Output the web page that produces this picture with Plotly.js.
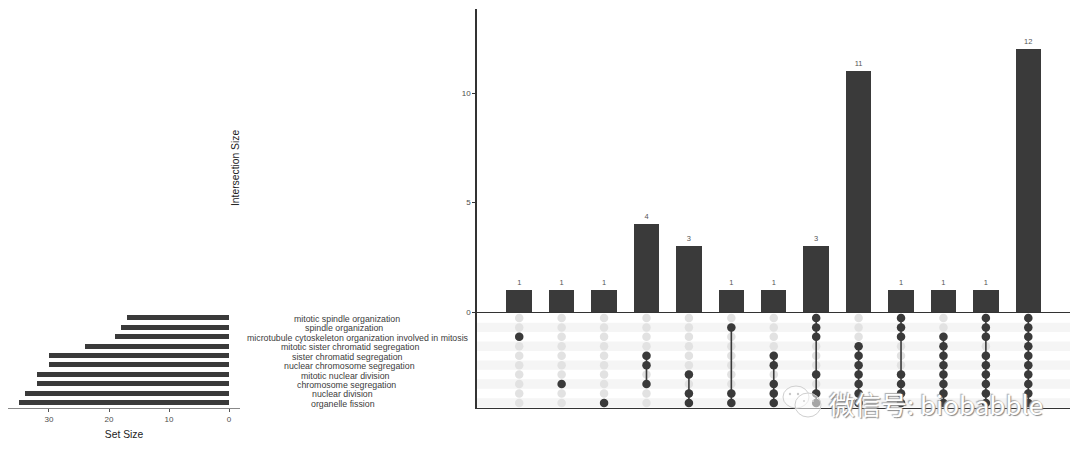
<!DOCTYPE html>
<html>
<head>
<meta charset="utf-8">
<script src="https://cdn.plot.ly/plotly-3.0.1.min.js"></script>
<style>html,body{margin:0;padding:0;background:#fff}#c{width:1080px;height:450px}</style>
</head>
<body>
<div id="c"></div>
<script>
const setNames = ["mitotic spindle organization","spindle organization","microtubule cytoskeleton organization involved in mitosis","mitotic sister chromatid segregation","sister chromatid segregation","nuclear chromosome segregation","mitotic nuclear division","chromosome segregation","nuclear division","organelle fission"];
const setSizes = [17,18,19,24,30,30,32,32,34,35];
const intersectionSizes = [1,1,1,4,3,1,1,3,11,1,1,1,12];
const intersectionColumns = [1,2,3,4,5,6,7,8,9,10,11,12,13];
const memberships = [
  [3],[8],[10],[5,6,8],[7,9,10],[2,9,10],[5,6,8,9,10],[1,2,3,7,9,10],
  [4,5,6,7,8,9,10],[1,2,3,7,8,9,10],[3,4,5,6,7,8,9,10],[1,2,3,5,6,7,8,9,10],[1,2,3,4,5,6,7,8,9,10]
];
const rows = [1,2,3,4,5,6,7,8,9,10];
const dark = "#3a3a3a", W = 1080, H = 450;
const px = v => v / W, py = v => 1 - v / H;
const sans = "Liberation Sans, Arial, sans-serif";
const tickFont = {family:sans, size:8, color:"#4d4d4d"};
const titleFont = {family:sans, size:10.3, color:"#222"};

const traces = [];
traces.push({type:"bar", x:intersectionColumns, y:intersectionSizes, xaxis:"x", yaxis:"y", width:0.6,
  marker:{color:dark}, text:intersectionSizes.map(String), textposition:"outside", cliponaxis:false,
  textfont:{family:sans, size:7.5, color:"#555"}, hoverinfo:"x+y"});
traces.push({type:"bar", orientation:"h", x:setSizes, y:rows, xaxis:"x2", yaxis:"y2", width:0.53,
  marker:{color:dark}, hoverinfo:"x"});
const gx = [], gy = [];
intersectionColumns.forEach(c => rows.forEach(r => { gx.push(c); gy.push(r); }));
traces.push({type:"scatter", mode:"markers", x:gx, y:gy, xaxis:"x3", yaxis:"y3",
  marker:{size:8.5, color:"#e2e2e2"}, hoverinfo:"skip"});
memberships.forEach((m,i) => {
  traces.push({type:"scatter", mode:"lines+markers", x:m.map(() => intersectionColumns[i]), y:m, xaxis:"x3", yaxis:"y3",
    line:{color:dark, width:1.6}, marker:{size:8.5, color:dark}, hoverinfo:"skip"});
});

const stripes = rows.filter(r => r % 2 === 0).map(r => ({type:"rect", layer:"below", xref:"x3 domain", yref:"y3",
  x0:0, x1:1, y0:r-0.5, y1:r+0.5, fillcolor:"#f5f5f5", line:{width:0}}));

const bubble = (cx,cy,rx,ry,fill,line) => ({type:"circle", xref:"paper", yref:"paper", layer:"above",
  x0:px(cx-rx), x1:px(cx+rx), y0:py(cy+ry), y1:py(cy-ry), fillcolor:fill, line:{color:line, width:line === fill ? 0 : 1}});
const iconFill = "rgba(255,255,255,0.55)", iconLine = "#cfcfcf";
const icon = [bubble(796,397,13,11,iconFill,iconLine), bubble(808,405,13,12,iconFill,iconLine),
  bubble(790,394,1.2,1.2,"#c8c8c8","#c8c8c8"), bubble(798,394,1.2,1.2,"#c8c8c8","#c8c8c8"),
  bubble(804,401,1,1,"#d0d0d0","#d0d0d0"), bubble(813,401,1,1,"#d0d0d0","#d0d0d0")];

// The labels were set with a partial justification: wider labels sit further right.
const ctx = document.createElement("canvas").getContext("2d");
ctx.font = "8.8px 'Liberation Sans'";
const rowLabels = setNames.map((n,i) => ({text:n, xref:"paper", yref:"y3",
  x:px(336.7 + 0.097 * ctx.measureText(n).width), y:rows[i] + 0.1,
  xanchor:"center", yanchor:"middle", showarrow:false,
  font:{family:sans, size:8.8, color:"#3c3c3c"}}));

const watermark = {text:"微信号: biobabble", xref:"paper", yref:"paper", x:px(1045), y:py(403), xanchor:"right", yanchor:"middle",
  showarrow:false, font:{family:"Noto Sans CJK SC, sans-serif", size:26, color:"#ffffff", shadow:"1px 1px 1px #888, -1px -1px 1px #aaa"}};

const layout = {
  width:W, height:H, margin:{l:0,r:0,t:0,b:0}, paper_bgcolor:"#fff", plot_bgcolor:"rgba(0,0,0,0)", showlegend:false, bargap:0,
  xaxis:{domain:[px(476.5),px(1070)], anchor:"y", range:[-0.007,13.983], showline:true, linecolor:"#333", linewidth:1.3, showticklabels:false, ticks:"", showgrid:false, zeroline:false},
  yaxis:{domain:[py(312),py(9)], anchor:"x", range:[0,13.84], tickvals:[0,5,10], ticktext:["0","5","10"], ticks:"outside", ticklen:3, tickcolor:"#333", showline:true, linecolor:"#333", linewidth:1.3,
    showgrid:false, zeroline:false, tickfont:tickFont},
  xaxis2:{domain:[px(8),px(240)], anchor:"y2", range:[36.83,-1.83], tickvals:[30,20,10,0], ticktext:["30","20","10","0"], ticks:"outside", ticklen:3, tickcolor:"#555", showline:true, linecolor:"#888", linewidth:1.2,
    showgrid:false, zeroline:false, tickfont:tickFont, title:{text:"Set Size", font:titleFont, standoff:8}},
  yaxis2:{domain:[py(408),py(312.5)], anchor:"x2", range:[10.55,0.45], showticklabels:false, ticks:"", showgrid:false, zeroline:false, showline:false},
  xaxis3:{domain:[px(476.5),px(1070)], anchor:"y3", range:[-0.007,13.983], showline:true, linecolor:"#333", linewidth:1.3, showticklabels:false, ticks:"", showgrid:false, zeroline:false},
  yaxis3:{domain:[py(408),py(312)], anchor:"x3", range:[10.54,0.37], showline:true, linecolor:"#333", linewidth:1.3, showticklabels:false, ticks:"", showgrid:false, zeroline:false},
  shapes:stripes.concat(icon),
  annotations:rowLabels.concat([
    {text:"Intersection Size", xref:"paper", yref:"paper", x:px(236), y:py(168), textangle:-90, xanchor:"center", yanchor:"middle", showarrow:false, font:titleFont},
    watermark
  ])
};
Plotly.newPlot("c", traces, layout, {displayModeBar:false, staticPlot:true});
</script>
</body>
</html>
